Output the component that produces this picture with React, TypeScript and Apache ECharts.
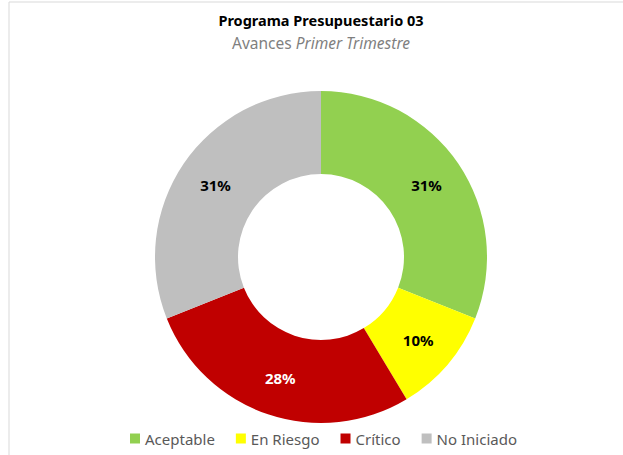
import React, { useEffect, useRef } from "react";
import * as echarts from "echarts";

const categories = ["Aceptable", "En Riesgo", "Crítico", "No Iniciado"];
const values = [9, 3, 8, 9];
const colors = ["#92D050", "#FFFF00", "#C00000", "#BFBFBF"];
const labelColors = ["#000000", "#000000", "#FFFFFF", "#000000"];
const titleText = "Programa Presupuestario 03";
const subtitleText = "Avances {i|Primer Trimestre}";

export default function App() {
  const ref = useRef<HTMLDivElement>(null);
  useEffect(() => {
    document.body.style.margin = "0";
    const chart = echarts.init(ref.current!, null, { renderer: "svg" });
    chart.setOption({
      animation: false,
      backgroundColor: "#ffffff",
      legend: {
        bottom: 4,
        left: 125,
        itemWidth: 10,
        itemHeight: 10,
        itemGap: 21,
        icon: "rect",
        textStyle: { fontFamily: "Noto Sans", fontSize: 15, color: "#595959" },
        data: categories,
      },
      graphic: [
        { type: "line", shape: { x1: 9, y1: 2, x2: 623, y2: 2 }, style: { stroke: "#d9d9d9", lineWidth: 1 } },
        { type: "line", shape: { x1: 9, y1: 2, x2: 9, y2: 455 }, style: { stroke: "#d9d9d9", lineWidth: 1 } },
        {
          type: "text",
          x: 321,
          y: 20,
          style: {
            text: titleText,
            fontFamily: "Noto Sans",
            fontSize: 14.5,
            fontWeight: "bold",
            fill: "#000000",
            align: "center",
            verticalAlign: "middle",
          },
        },
        {
          type: "text",
          x: 321,
          y: 43,
          style: {
            text: subtitleText,
            fontFamily: "Noto Sans",
            fontSize: 15.5,
            fill: "#7f7f7f",
            align: "center",
            verticalAlign: "middle",
            rich: { i: { fontFamily: "Noto Sans", fontSize: 15.5, fontStyle: "italic", fill: "#7f7f7f" } },
          },
        },
      ],
      series: [
        {
          type: "pie",
          center: [321, 257],
          radius: [83, 166],
          startAngle: 90,
          clockwise: true,
          avoidLabelOverlap: false,
          label: {
            show: true,
            position: "inside",
            formatter: (p: any) => Math.round(p.percent) + "%",
            fontFamily: "Noto Sans",
            fontSize: 15,
            fontWeight: "bold",
          },
          labelLine: { show: false },
          itemStyle: { borderWidth: 0 },
          emphasis: { disabled: true },
          data: categories.map((c, i) => ({
            name: c,
            value: values[i],
            itemStyle: { color: colors[i] },
            label: { color: labelColors[i] },
          })),
        },
      ],
    });
    return () => chart.dispose();
  }, []);
  return <div ref={ref} style={{ width: 623, height: 455 }} />;
}
